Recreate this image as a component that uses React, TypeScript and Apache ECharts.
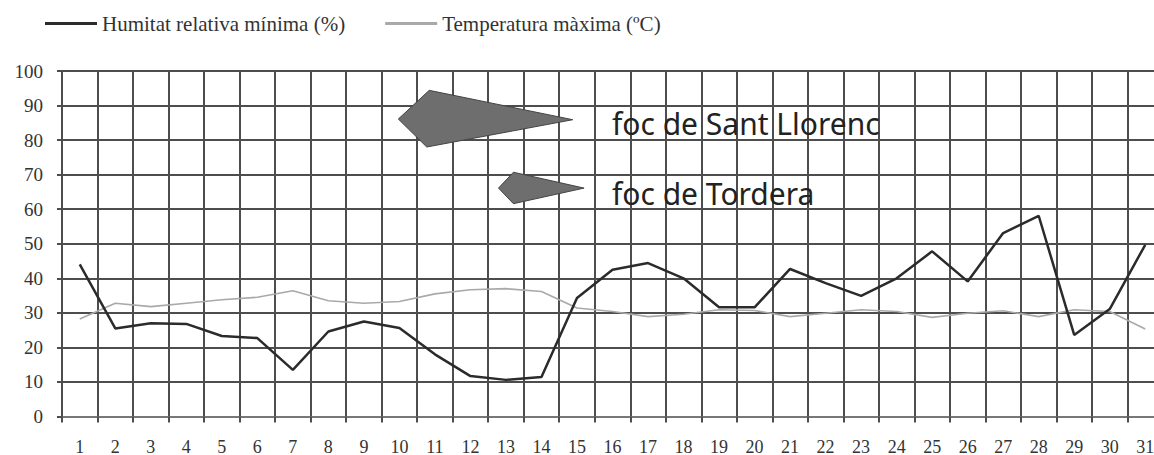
import React, { useEffect, useRef } from "react";
import * as echarts from "echarts";

const days = Array.from({ length: 31 }, (_, i) => String(i + 1));
const humidityName = "Humitat relativa mínima (%)";
const tempName = "Temperatura màxima (ºC)";
const humidity = [44, 25.5, 27, 26.8, 23.3, 22.7, 13.5, 24.6, 27.5, 25.6, 18, 11.7, 10.6, 11.4, 34.3, 42.5, 44.4, 40, 31.6, 31.6, 42.7, 38.6, 34.9, 40, 47.8, 39.1, 53.1, 58.1, 23.6, 31.1, 49.7];
const temperature = [28.2, 32.8, 31.8, 32.8, 33.8, 34.5, 36.4, 33.5, 32.8, 33.3, 35.5, 36.7, 37, 36.2, 31.4, 30.4, 28.9, 29.6, 30.9, 30.7, 28.9, 29.9, 30.9, 30.4, 28.7, 29.9, 30.6, 28.9, 30.9, 30.4, 25.3];
const yTicks = [0, 100, 10];

// annotation shapes in (day index, value) space
const fireSantLlorenc = [[8.97, 86.1], [9.84, 94.4], [13.88, 85.9], [9.77, 78.0]];
const fireTordera = [[11.79, 66.1], [12.21, 70.7], [14.2, 66.1], [12.21, 61.6]];
const fireLabels = ["foc de Sant Llorenc", "foc de Tordera"];

export default function App() {
  const ref = useRef<HTMLDivElement>(null);
  useEffect(() => {
    const chart = echarts.init(ref.current!, null, { renderer: "svg" });
    const gridColor = "#4d4d4d";
    chart.setOption({
      animation: false,
      backgroundColor: "#ffffff",
      legend: {
        left: 40,
        top: 8,
        icon: "rect",
        itemWidth: 52,
        itemHeight: 3,
        itemGap: 40,
        textStyle: { fontFamily: "Liberation Serif", fontSize: 21, color: "#333" },
        data: [humidityName, tempName],
      },
      grid: { left: 62, top: 71, right: -9, bottom: 38.5, outerBoundsMode: "none" },
      xAxis: {
        type: "category",
        data: days,
        boundaryGap: true,
        axisLine: { show: true, lineStyle: { color: "#777", width: 2 } },
        axisTick: { show: true, interval: 0, length: 6, lineStyle: { color: gridColor, width: 2 } },
        axisLabel: { interval: 0, margin: 21, fontFamily: "Liberation Serif", fontSize: 18, color: "#333" },
        splitLine: { show: true, interval: 0, lineStyle: { color: gridColor, width: 2 } },
      },
      yAxis: {
        type: "value",
        min: yTicks[0],
        max: yTicks[1],
        interval: yTicks[2],
        axisLine: { show: true, lineStyle: { color: gridColor, width: 2 } },
        axisTick: { show: true, length: 5, lineStyle: { color: gridColor, width: 2 } },
        axisLabel: { margin: 19, fontFamily: "Liberation Serif", fontSize: 19, color: "#333" },
        splitLine: { show: true, lineStyle: { color: gridColor, width: 2 } },
      },
      series: [
        {
          name: humidityName,
          type: "line",
          data: humidity,
          symbol: "none",
          lineStyle: { color: "#2b2b2b", width: 2.5 },
          itemStyle: { color: "#2b2b2b" },
          z: 3,
        },
        {
          name: tempName,
          type: "line",
          data: temperature,
          symbol: "none",
          lineStyle: { color: "#a9a9a9", width: 1.6 },
          itemStyle: { color: "#a9a9a9" },
          z: 2,
        },
      ],
    });

    const x0 = chart.convertToPixel({ xAxisIndex: 0 }, 0) as number;
    const x1 = chart.convertToPixel({ xAxisIndex: 0 }, 1) as number;
    const toPx = (p: number[]) => [
      x0 + (x1 - x0) * p[0],
      chart.convertToPixel({ yAxisIndex: 0 }, p[1]) as number,
    ];
    chart.setOption({
      graphic: [
        {
          type: "polygon",
          shape: { points: fireSantLlorenc.map(toPx) },
          style: { fill: "#6e6e6e", stroke: "#444", lineWidth: 1 },
          z: 10,
        },
        {
          type: "polygon",
          shape: { points: fireTordera.map(toPx) },
          style: { fill: "#6e6e6e", stroke: "#444", lineWidth: 1 },
          z: 10,
        },
        {
          type: "text",
          x: 612,
          y: 123,
          style: { text: fireLabels[0], font: "30px 'Noto Sans'", fill: "#222", textVerticalAlign: "middle" },
          z: 10,
        },
        {
          type: "text",
          x: 612,
          y: 193,
          style: { text: fireLabels[1], font: "30px 'Noto Sans'", fill: "#222", textVerticalAlign: "middle" },
          z: 10,
        },
      ],
    });
    return () => chart.dispose();
  }, []);
  return (
    <div
      ref={ref}
      style={{ position: "absolute", left: 0, top: 0, width: 1154, height: 455 }}
    />
  );
}
